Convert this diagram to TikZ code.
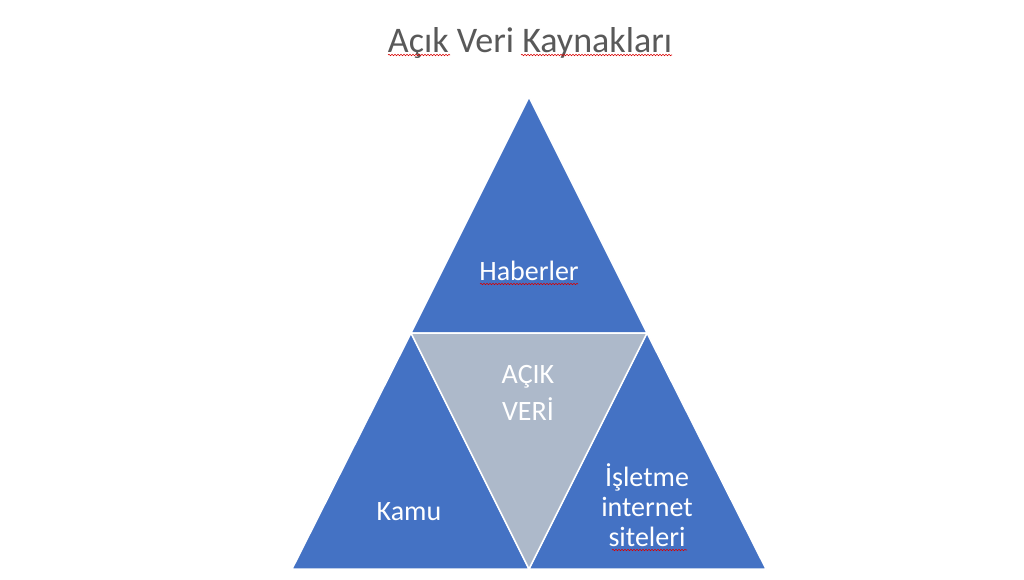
\documentclass[tikz,border=0pt]{standalone}
\usepackage{fontspec}
\setmainfont{Carlito}
\usetikzlibrary{decorations.pathmorphing}
\definecolor{blueface}{HTML}{4472C4}
\definecolor{grayface}{HTML}{ADB9CA}
\definecolor{heading}{HTML}{595959}

\begin{document}
\begin{tikzpicture}[x=1pt, y=-1pt,
    piece/.style={fill=blueface, draw=white, line width=1.5pt, line join=round},
    core/.style={fill=grayface, draw=white, line width=1.5pt, line join=round},
    tag/.style={text=white, inner sep=0pt, font=\fontsize{28}{30}\selectfont},
    squiggle/.style={draw=red!85!black, line width=0.6pt, decorate,
      decoration={snake, amplitude=0.7pt, segment length=3pt}}]
		\useasboundingbox[fill=white] (0,0) rectangle (1024,579);

		% corners of the big triangle and its midpoints
		\coordinate (apex) at (529,97);
		\coordinate (midL) at (411,333);
		\coordinate (midR) at (647,333);
		\coordinate (baseL) at (292,569);
		\coordinate (baseM) at (529,569);
		\coordinate (baseR) at (766,569);

		\filldraw[piece] (apex) -- (midR) -- (midL) -- cycle;
		\filldraw[piece] (midL) -- (baseM) -- (baseL) -- cycle;
		\filldraw[piece] (midR) -- (baseR) -- (baseM) -- cycle;
		\filldraw[core] (midL) -- (midR) -- (baseM) -- cycle;

		\node[anchor=base, inner sep=0pt, text=heading, font=\fontsize{36}{40}\selectfont] (title) at (530,52) {Açık Veri Kaynakları};

		% multi-line nodes sit on their last baseline
		\node[tag, anchor=base] (haberler) at (529,280) {Haberler};
		\node[tag, anchor=base, align=center, font=\fontsize{28}{37}\selectfont] (acik) at (528,420) {AÇIK\\VERİ};
		\node[tag, anchor=base] (kamu) at (409,520) {Kamu};
		\node[tag, anchor=base, align=center] (isletme) at (647,546) {İşletme\\internet\\siteleri};

		% spell check marks
		\draw[squiggle] (388,55) -- (450,55);
		\draw[squiggle] (521,55) -- (672,55);
		\draw[squiggle] (480,284) -- (578,284);
		\draw[squiggle] (612,550) -- (687,550);
\end{tikzpicture}
\end{document}
